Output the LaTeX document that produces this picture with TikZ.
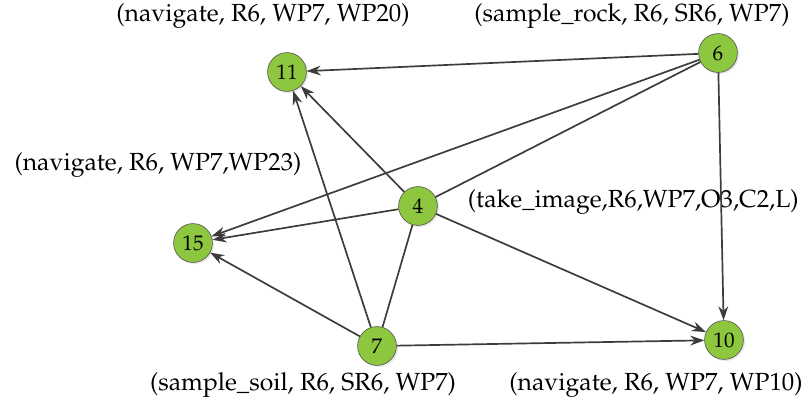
\documentclass[tikz,border=0pt]{standalone}
\usepackage[T1]{fontenc}
\usepackage{mathpazo}
\usetikzlibrary{arrows.meta,shadows}
\definecolor{nodegreen}{RGB}{141,198,63}
\definecolor{edgegray}{RGB}{60,60,60}

\begin{document}
\begin{tikzpicture}[x=0.025cm,y=-0.025cm,
        state/.style={circle,draw=black!70,fill=nodegreen,minimum size=0.97cm,inner sep=0pt,
            font=\fontsize{15}{17}\selectfont,
            drop shadow={opacity=0.2,shadow xshift=0.04cm,shadow yshift=-0.04cm}},
        act/.style={font=\fontsize{17.6}{20}\selectfont},
        link/.style={draw=edgegray,line width=1.2pt},
        dir/.style={link,-{Stealth[length=10pt,width=7pt]}}]
        \useasboundingbox (0,0) rectangle (810,405);
        \node [state] (n11) at (287,72) {11};
        \node [state] (n6) at (718,53) {6};
        \node [state] (n15) at (193,243) {15};
        \node [state] (n4) at (418,206) {4};
        \node [state] (n7) at (377,346) {7};
        \node [state] (n10) at (724,340) {10};
        \node [act] (a11) at (263,16) {(navigate, R6, WP7, WP20)};
        \node [act] (a6) at (632,16) {(sample\_rock, R6, SR6, WP7)};
        \node [act] (a15) at (158,165) {(navigate, R6, WP7,WP23)};
        \node [act, anchor=west] (a4) at (463,202) {(take\_image,R6,WP7,O3,C2,L)};
        \node [act] (a7) at (303,385) {(sample\_soil, R6, SR6, WP7)};
        \node [act] (a10) at (656,385) {(navigate, R6, WP7, WP10)};
        \draw [dir] (n6) -- (n11);
        \draw [dir] (n6) -- (n15);
        \draw [link] (n6) -- (n4);
        \draw [dir] (n6) -- (n10);
        \draw [dir] (n4) -- (n11);
        \draw [dir] (n4) -- (n15);
        \draw [dir] (n4) -- (n10);
        \draw [link] (n4) -- (n7);
        \draw [dir] (n7) -- (n11);
        \draw [dir] (n7) -- (n15);
        \draw [dir] (n7) -- (n10);
    \end{tikzpicture}
\end{document}
